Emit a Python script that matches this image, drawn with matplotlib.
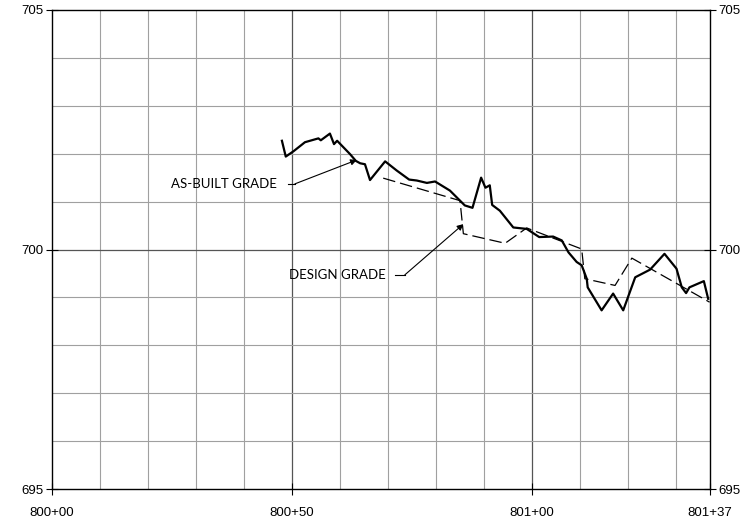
import matplotlib
matplotlib.use("Agg")
import matplotlib.pyplot as plt

# station offsets (ft past 800+00) and elevations
asbuilt_x = [47.9, 48.7, 50.3, 52.7, 54.1, 55.5, 56.0, 57.9, 58.75, 59.4, 62.1, 63.3, 64.2, 65.2,
             66.25, 69.4, 71.8, 74.4, 76.0, 78.1, 79.8, 82.9, 85.0, 86.0, 87.6, 89.4, 90.3, 91.2,
             91.7, 93.3, 96.1, 98.9, 101.5, 104.4, 106.2, 107.6, 109.3, 110.35, 111.4, 111.6,
             114.5, 116.9, 119.0, 121.5, 124.6, 127.6, 130.1, 131.2, 132.1, 132.8, 135.8, 136.7]
asbuilt_y = [702.27, 701.94, 702.05, 702.24, 702.28, 702.32, 702.28, 702.42, 702.20, 702.27, 701.99,
             701.85, 701.80, 701.78, 701.45, 701.84, 701.65, 701.46, 701.44, 701.39, 701.42, 701.23,
             701.02, 700.92, 700.87, 701.50, 701.29, 701.34, 700.93, 700.81, 700.46, 700.43, 700.26,
             700.27, 700.19, 699.94, 699.74, 699.67, 699.39, 699.21, 698.73, 699.08, 698.73, 699.42,
             699.58, 699.91, 699.60, 699.21, 699.09, 699.21, 699.34, 698.97]

design_x = [69.0, 85.0, 85.7, 94.4, 98.9, 110.35, 111.0, 117.3, 120.8, 137.0]
design_y = [701.49, 701.02, 700.33, 700.13, 700.45, 700.01, 699.39, 699.25, 699.82, 698.90]

xticks = [0, 50, 100, 137]
xtick_labels = ["800+00", "800+50", "801+00", "801+37"]
yticks = [695, 700, 705]

fig = plt.figure(figsize=(7.45, 5.29), dpi=100)
ax = fig.add_axes([0.0698, 0.0756, 0.8827, 0.9055])
ax.set_xlim(0, 137)
ax.set_ylim(695, 705)

# grid: every 10 ft and every 1 ft of elevation, heavier at the labelled values
for gx in range(10, 137, 10):
    ax.axvline(gx, color="#555555" if gx % 50 == 0 else "#a0a0a0", lw=0.9 if gx % 50 == 0 else 0.8, zorder=1)
for gy in range(696, 705):
    ax.axhline(gy, color="#555555" if gy == 700 else "#a0a0a0", lw=0.9 if gy == 700 else 0.8, zorder=1)

ax.plot(design_x, design_y, color="black", lw=0.9, dashes=(10, 4), zorder=3)
ax.plot(asbuilt_x, asbuilt_y, color="black", lw=1.6, zorder=4)

# leaders: short horizontal tick then diagonal arrow
ann_font = dict(family="Lato", size=9.5)
ax.plot([49.2, 50.6], [701.37, 701.37], color="black", lw=0.8, zorder=5)
ax.annotate("", xy=(63.5, 701.87), xytext=(50.6, 701.37),
            arrowprops=dict(arrowstyle="-|>", color="black", lw=0.8, mutation_scale=9, shrinkA=0, shrinkB=0), zorder=5)
ax.text(46.9, 701.37, "AS-BUILT GRADE", ha="right", va="center", fontdict=ann_font, zorder=5)

ax.plot([71.4, 73.5], [699.47, 699.47], color="black", lw=0.8, zorder=5)
ax.annotate("", xy=(85.7, 700.53), xytext=(73.5, 699.47),
            arrowprops=dict(arrowstyle="-|>", color="black", lw=0.8, mutation_scale=9, shrinkA=0, shrinkB=0), zorder=5)
ax.text(69.6, 699.47, "DESIGN GRADE", ha="right", va="center", fontdict=ann_font, zorder=5)

ax.set_xticks(xticks)
ax.set_xticklabels(xtick_labels)
ax.set_yticks(yticks)
ax.tick_params(axis="both", direction="inout", length=8, width=0.8, labelsize=9.5, colors="black")
ax.tick_params(axis="x", pad=9)
ax.tick_params(axis="y", left=True, right=True, labelleft=True, labelright=True, pad=2)
for lab in ax.get_xticklabels() + ax.get_yticklabels() + ax.yaxis.get_ticklabels(which="major"):
    lab.set_family("Liberation Sans")
for s in ax.spines.values():
    s.set_linewidth(1.0)
    s.set_color("black")

fig.savefig("out.png", dpi=100)
